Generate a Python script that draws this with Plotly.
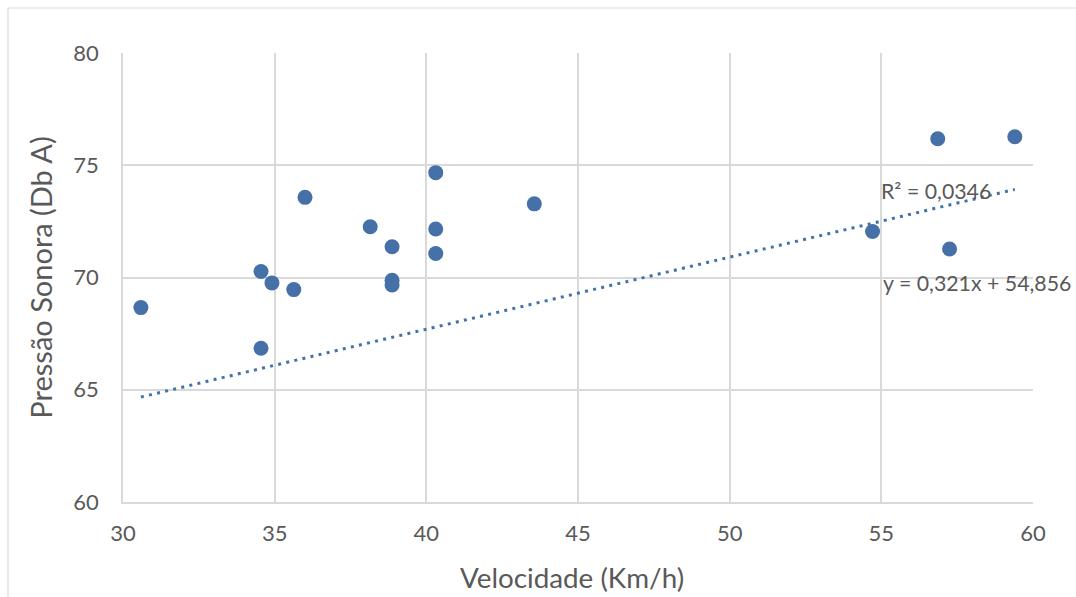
import plotly.graph_objects as go

# Data
velocidade = [30.59, 34.55, 34.55, 34.91, 35.63, 36.00, 38.15, 38.87, 38.87, 38.87,
              40.31, 40.31, 40.31, 43.56, 54.71, 56.86, 57.25, 59.40]
pressao = [68.66, 70.27, 66.85, 69.76, 69.46, 73.57, 72.26, 71.37, 69.88, 69.67,
           74.67, 72.16, 71.07, 73.28, 72.05, 76.18, 71.27, 76.27]

slope = 0.321
intercept = 54.856
r2_text = "R² = 0,0346"
eq_text = "y = 0,321x + 54,856"
x_title = "Velocidade (Km/h)"
y_title = "Pressão Sonora (Db A)"

x_ticks = [30, 35, 40, 45, 50, 55, 60]
y_ticks = [60, 65, 70, 75, 80]

blue = "#4571A8"
grid = "#D9D9D9"
txt = "#595959"
font = "Lato"

x_min, x_max = min(velocidade), max(velocidade)
trend_x = [x_min, x_max]
trend_y = [slope * v + intercept for v in trend_x]

fig = go.Figure()
fig.add_trace(go.Scatter(x=trend_x, y=trend_y, mode="lines",
                         line=dict(color=blue, width=3, dash="3px,5.3px"),
                         hoverinfo="skip", showlegend=False))
fig.add_trace(go.Scatter(x=velocidade, y=pressao, mode="markers",
                         marker=dict(color=blue, size=15, line=dict(width=0)),
                         showlegend=False))

L, R, T, B = 123, 43, 53, 95
W, H = 1076, 597
pw, ph = W - L - R, H - T - B

fig.update_layout(
    width=W, height=H,
    margin=dict(l=L, r=R, t=T, b=B, pad=0),
    paper_bgcolor="white", plot_bgcolor="white",
    font=dict(family=font, color=txt, size=22),
    xaxis=dict(range=[30, 60], tickvals=x_ticks, showgrid=True, gridcolor=grid,
               gridwidth=1.5, showline=True, linecolor=grid, linewidth=1.5,
               zeroline=False, ticks="", ticklabelstandoff=11,
               tickfont=dict(size=22, family=font, color=txt)),
    yaxis=dict(range=[60, 80], tickvals=y_ticks, showgrid=True, gridcolor=grid,
               gridwidth=1.5, showline=True, linecolor=grid, linewidth=1.5,
               zeroline=False, ticks="", ticklabelstandoff=18,
               tickfont=dict(size=22, family=font, color=txt),
               title=dict(text=y_title, standoff=12,
                          font=dict(size=29, family=font, color=txt))),
    annotations=[
        dict(text=x_title, xref="paper", yref="paper",
             x=(571.5 - L) / pw, y=-(577 - T - ph) / ph, xanchor="center", yanchor="middle",
             showarrow=False, font=dict(size=27.8, family=font, color=txt)),
        dict(text=r2_text, xref="paper", yref="paper",
             x=(879 - L) / pw, y=1 - (191 - T) / ph, xanchor="left", yanchor="middle",
             showarrow=False, font=dict(size=21.3, family=font, color=txt)),
        dict(text=eq_text, xref="paper", yref="paper",
             x=(881 - L) / pw, y=1 - (283 - T) / ph, xanchor="left", yanchor="middle",
             showarrow=False, font=dict(size=21.3, family=font, color=txt)),
    ],
    shapes=[dict(type="rect", xref="paper", yref="paper",
                 x0=(8 - L) / pw, x1=(W + 5 - L) / pw,
                 y0=-(H + 5 - T - ph) / ph, y1=1 + (T - 8) / ph,
                 line=dict(color=grid, width=1.2), layer="below")],
)

fig.write_html("out.html")
